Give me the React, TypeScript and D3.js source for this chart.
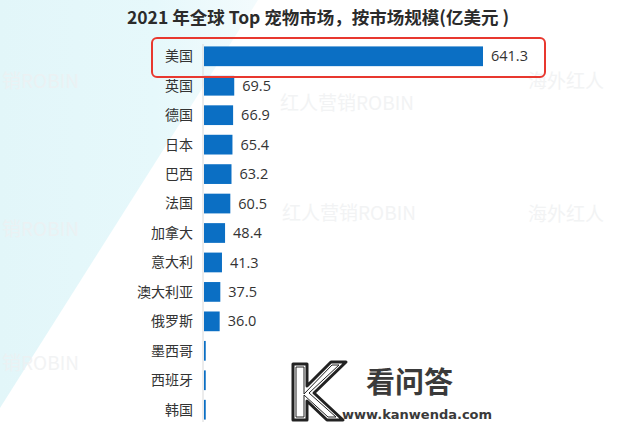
import React from "react";
import * as d3 from "d3";

const categories = ["美国", "英国", "德国", "日本", "巴西", "法国", "加拿大", "意大利", "澳大利亚", "俄罗斯", "墨西哥", "西班牙", "韩国"];
const values = [641.3, 69.5, 66.9, 65.4, 63.2, 60.5, 48.4, 41.3, 37.5, 36.0, 4, 4, 4];
const valueLabels = ["641.3", "69.5", "66.9", "65.4", "63.2", "60.5", "48.4", "41.3", "37.5", "36.0", "", "", ""];
const title = "2021 年全球 Top 宠物市场，按市场规模(亿美元 )";

const W = 640, H = 426;
const BLUE = "#0b6fc4";

export default function App() {
  const x = d3.scaleLinear().domain([0, 641.3]).range([204, 483]);
  const y = d3.scaleBand().domain(categories).range([42, 424]).paddingInner(0.33).paddingOuter(0.15);
  const bw = y.bandwidth();
  const cjk = "'Noto Sans CJK SC', 'Noto Sans', sans-serif";
  const num = "'Open Sans', 'Noto Sans', sans-serif";
  const wm = "#eef0f1";
  return (
    <svg width={W} height={H} style={{ position: "fixed", left: 0, top: 0, background: "#fff" }}>
      <defs>
        <linearGradient id="bg" x1="0" y1="0" x2="1" y2="0">
          <stop offset="0" stopColor="#e2f6f9" />
          <stop offset="0.6" stopColor="#e6f8fb" />
          <stop offset="1" stopColor="#f3fbfd" />
        </linearGradient>
      </defs>
      <polygon points="0,0 258,0 0,408" fill="url(#bg)" />
      {/* watermarks */}
      <g fontFamily={cjk} fontSize={19} fill={wm} opacity={0.75}>
        <text x={2} y={88}>销ROBIN</text>
        <text x={2} y={236}>销ROBIN</text>
        <text x={2} y={370}>销ROBIN</text>
        <text x={528} y={88}>海外红人</text>
        <text x={528} y={221}>海外红人</text>
        <text x={280} y={110}>红人营销ROBIN</text>
        <text x={282} y={220}>红人营销ROBIN</text>
      </g>
      <text x={318} y={24} textAnchor="middle" fontFamily={cjk} fontWeight={700} fontSize={17.5} fill="#2b2b2b">{title}</text>
      <line x1={x(0) - 1} x2={x(0) - 1} y1={44} y2={422} stroke="#d9d9d9" strokeWidth={1} />
      {categories.map((c, i) => {
        const yy = y(c)!;
        return (
          <g key={c}>
            <text x={193} y={yy + bw / 2} dy="0.35em" textAnchor="end" fontFamily={cjk} fontSize={14} fill="#333">{c}</text>
            <rect x={x(0)} y={yy} width={Math.max(x(values[i]) - x(0), 1)} height={bw} fill={BLUE} />
            {valueLabels[i] && (
              <text x={x(values[i]) + 8} y={yy + bw / 2} dy="0.35em" fontFamily={num} fontSize={14.5} fill="#333">{valueLabels[i]}</text>
            )}
          </g>
        );
      })}
      <rect x={152} y={38} width={393} height={39} rx={5} fill="none" stroke="#e8382f" strokeWidth={2} />
      {/* kanwenda logo */}
      <rect x={282} y={356} width={230} height={70} fill="#fff" />
      <path d="M293,364 L307,364 L307,386 L331,362 L346,362 L314,393 L343,420 L327,420 L307,401 L307,420 L293,420 Z" fill="#fff" stroke="#222" strokeWidth={3} strokeLinejoin="round" />
      <path d="M296,367 L304,367 L304,394 L332,365 L339,365 L309,393 L336,417 L328,417 L304,395 L304,417 L296,417 Z" fill="none" stroke="#222" strokeWidth={1} />
      <text x={366} y={393} fontFamily={cjk} fontWeight={700} fontSize={29} fill="#3a3a3a">看问答</text>
      <text x={342} y={419} fontFamily="'DejaVu Sans', sans-serif" fontWeight={700} fontSize={13} fill="#3a3a3a">www.kanwenda.com</text>
    </svg>
  );
}
